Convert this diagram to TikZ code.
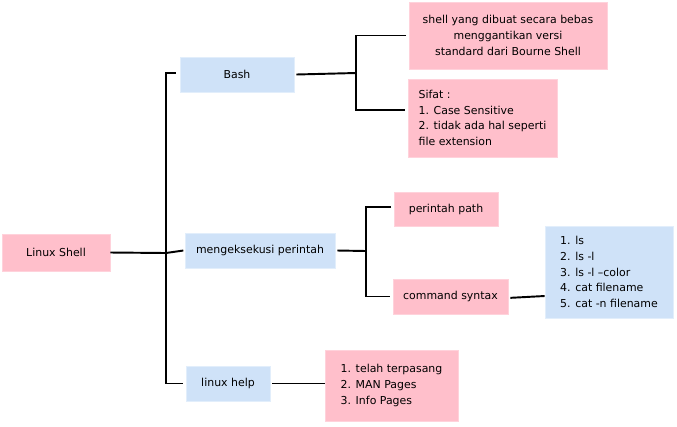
\documentclass[tikz,border=0pt]{standalone}
\usepackage{fontspec}
\setmainfont{DejaVu Sans}
\begin{document}
\begin{tikzpicture}[x=0.75pt,y=-0.75pt,
  every node/.style={font=\fontsize{8.2}{11.8}\selectfont, inner sep=0pt},
  pinkbox/.style={fill=pinkfill, draw=pinkfill!70!white, line width=0.5pt},
  bluebox/.style={fill=bluefill, draw=bluefill!60!white, line width=0.5pt},
  conn/.style={line width=1.45pt, black}]
\definecolor{pinkfill}{HTML}{FFBFCB}
\definecolor{bluefill}{HTML}{CFE2F8}
\useasboundingbox (0,0) rectangle (677,426);

\node[pinkbox, minimum width=81pt, minimum height=27.75pt] (root) at (56,252.5) {Linux Shell};
\node[bluebox, minimum width=85.5pt, minimum height=26.25pt] (bash) at (237,74.5) {Bash};
\node[bluebox, minimum width=112.5pt, minimum height=26.25pt] (exec) at (260,250.5) {mengeksekusi perintah};
\node[bluebox, minimum width=63pt, minimum height=26.25pt] (help) at (228,383.5) {linux help};

\node[pinkbox, minimum width=148.5pt, minimum height=50.25pt, align=center] (shell) at (508,35.5)
  {shell yang dibuat secara bebas\\menggantikan versi\\ standard dari Bourne Shell};
\node[pinkbox, minimum width=111.75pt, minimum height=58.5pt, align=left] (sifat) at (482.5,118)
  {Sifat :\\1. Case Sensitive\\2. tidak ada hal seperti\\file extension};
\node[pinkbox, minimum width=78pt, minimum height=25.5pt] (path) at (446,209) {perintah path};
\node[pinkbox, minimum width=86.25pt, minimum height=26.25pt] (cmd) at (450.5,296.5) {command syntax};
\node[bluebox, minimum width=96pt, minimum height=69pt, align=left] (ls) at (609,272)
  {1. ls\\2. ls -l\\3. ls -l --color\\4. cat filename\\5. cat -n filename};
\node[pinkbox, minimum width=99.75pt, minimum height=53.25pt, align=left] (helplist) at (391.5,385.5)
  {1. telah terpasang\\2. MAN Pages\\3. Info Pages};

\coordinate (j1) at (166,253);
\coordinate (j2) at (356,73);
\coordinate (j3) at (366,251);

\draw[conn] (root.east) -- (j1);
\draw[conn] ([xshift=-3pt,yshift=1pt]bash.west) -| (j1) |- ([xshift=-2pt]help.west);
\draw[conn] (j1) -- ([xshift=-1pt]exec.west);

\draw[conn] ([xshift=1.5pt]bash.east) -- (j2);
\draw[conn] ([xshift=-2pt]shell.west) -| (j2) |- ([xshift=-2pt,yshift=6pt]sifat.west);

\draw[conn] ([xshift=1.5pt]exec.east) -- (j3);
\draw[conn] ([xshift=-2pt,yshift=1.5pt]path.west) -| (j3) |- ([xshift=-2pt]cmd.west);

\draw[conn] ([xshift=1.5pt,yshift=-1pt]cmd.east) -- ([yshift=-18pt]ls.west);
\draw[conn] ([xshift=1.5pt]help.east) -- ([yshift=1.5pt]helplist.west);
\end{tikzpicture}
\end{document}
